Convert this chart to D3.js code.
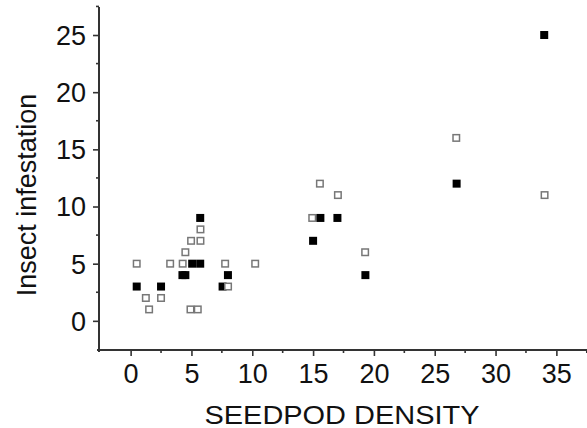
<!DOCTYPE html>
<html><head><meta charset="utf-8">
<script src="https://cdn.jsdelivr.net/npm/d3@7"></script>
<style>body{margin:0;background:#fff}svg{display:block}</style>
</head><body>
<script>
const filledX = [0.5, 2.5, 4.26, 4.5, 5.06, 5.72, 5.72, 7.56, 8.0, 15.0, 15.6, 17.0, 19.3, 26.8, 34.0];
const filledY = [3, 3, 4, 4, 5, 5, 9, 3, 4, 7, 9, 9, 4, 12, 25];
const openX = [0.5, 1.25, 1.52, 2.5, 3.25, 4.28, 4.5, 4.97, 5.74, 5.74, 4.92, 5.52, 7.77, 8.01, 10.24, 14.93, 15.56, 17.04, 19.28, 26.77, 34.03];
const openY = [5, 2, 1, 2, 5, 5, 6, 7, 7, 8, 1, 1, 5, 3, 5, 9, 12, 11, 6, 16, 11];
const xTicks = [0, 5, 10, 15, 20, 25, 30, 35];
const yTicks = [0, 5, 10, 15, 20, 25];
const xTitle = "SEEDPOD DENSITY";
const yTitle = "Insect infestation";

const W = 587, H = 428;
const svg = d3.select("body").append("svg").attr("width", W).attr("height", H);
const x = d3.scaleLinear().domain([-2.6, 37.6]).range([99, 588]);
const y = d3.scaleLinear().domain([-2.55, 27.45]).range([350, 7]);
const font = "'Liberation Sans', Arial, sans-serif";
const axCol = "#333";

// minor ticks
const xMinor = d3.range(2.5, 38, 5);
const yMinor = d3.range(2.5, 28, 5);

const xAxis = d3.axisBottom(x).tickValues(xTicks).tickSize(6).tickPadding(8).tickFormat(d3.format("d"));
const gx = svg.append("g").attr("transform", "translate(0,350)").call(xAxis);
const yAxis = d3.axisLeft(y).tickValues(yTicks).tickSize(6).tickPadding(7).tickFormat(d3.format("d"));
const gy = svg.append("g").attr("transform", "translate(99,0)").call(yAxis);
[gx, gy].forEach(g => {
  g.select(".domain").remove();
  g.selectAll(".tick line").attr("stroke", axCol).attr("stroke-width", 1.6);
  g.selectAll(".tick text").attr("fill", "#111").style("font-family", font).style("font-size", "27px");
});
gy.selectAll(".tick text").attr("dy", "0.35em");
gx.selectAll(".tick text").attr("dy", "0.72em");

svg.append("g").selectAll("line").data(xMinor).join("line")
  .attr("x1", d => x(d)).attr("x2", d => x(d)).attr("y1", 350).attr("y2", 353)
  .attr("stroke", axCol).attr("stroke-width", 1.6);
svg.append("g").selectAll("line").data(yMinor).join("line")
  .attr("y1", d => y(d)).attr("y2", d => y(d)).attr("x1", 99).attr("x2", 96)
  .attr("stroke", axCol).attr("stroke-width", 1.6);

// axis lines
svg.append("line").attr("x1", 99).attr("x2", 99).attr("y1", 7).attr("y2", 352)
  .attr("stroke", axCol).attr("stroke-width", 2);
svg.append("line").attr("x1", 97).attr("x2", W).attr("y1", 350).attr("y2", 350)
  .attr("stroke", axCol).attr("stroke-width", 2);

// points, drawn in order of x so later ones overlap earlier ones
const pts = filledX.map((v, i) => ({x: v, y: filledY[i], f: true}))
  .concat(openX.map((v, i) => ({x: v, y: openY[i], f: false})))
  .sort((a, b) => a.x - b.x);
const s = 8;
svg.append("g").selectAll("rect").data(pts).join("rect")
  .attr("x", d => x(d.x) - s / 2 + (d.f ? 0 : 0.75))
  .attr("y", d => y(d.y) - s / 2 + (d.f ? 0 : 0.75))
  .attr("width", d => d.f ? s : s - 1.5)
  .attr("height", d => d.f ? s : s - 1.5)
  .attr("fill", d => d.f ? "#000" : "#fff")
  .attr("stroke", d => d.f ? "none" : "#777")
  .attr("stroke-width", 1.5);

// titles
svg.append("text").attr("x", 342).attr("y", 424).attr("text-anchor", "middle")
  .attr("textLength", 275).attr("lengthAdjust", "spacingAndGlyphs")
  .style("font-family", font).style("font-size", "25px").attr("fill", "#111").text(xTitle);
svg.append("text").attr("transform", "translate(36,195) rotate(-90)").attr("text-anchor", "middle")
  .style("font-family", font).style("font-size", "27px").attr("fill", "#111").text(yTitle);
</script>
</body></html>
